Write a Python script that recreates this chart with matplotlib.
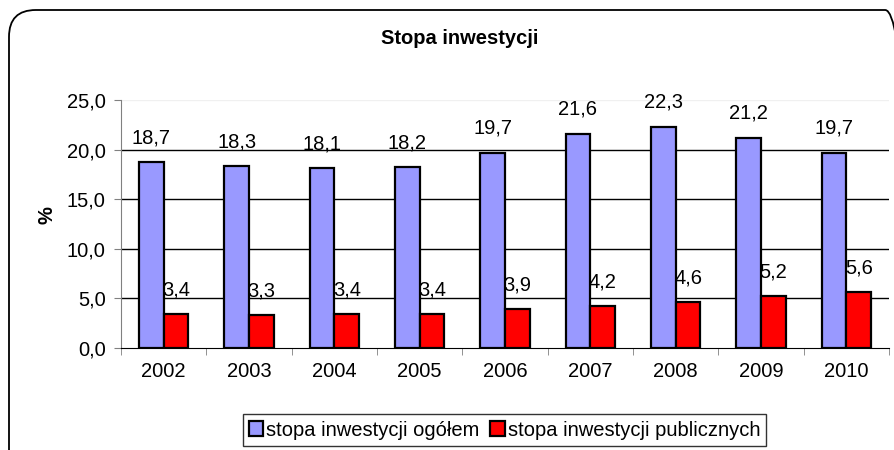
import matplotlib.pyplot as plt
import numpy as np
from matplotlib.patches import FancyBboxPatch

plt.rcParams['font.family'] = ['Liberation Sans', 'DejaVu Sans']

years = ['2002', '2003', '2004', '2005', '2006', '2007', '2008', '2009', '2010']
ogolem = [18.7, 18.3, 18.1, 18.2, 19.7, 21.6, 22.3, 21.2, 19.7]
publiczne = [3.4, 3.3, 3.4, 3.4, 3.9, 4.2, 4.6, 5.2, 5.6]

fs = 14.5
fig = plt.figure(figsize=(8.94, 4.5), dpi=100)

# rounded frame around the whole chart (runs off the right and bottom edges)
frame = FancyBboxPatch((9 / 894, -0.2), (912 - 9) / 894, 1.2 - 10 / 450,
                       boxstyle='round,pad=0,rounding_size=0.03',
                       transform=fig.transFigure, facecolor='none',
                       edgecolor='black', linewidth=1.3, zorder=-1,
                       mutation_aspect=894 / 450)
fig.patches.append(frame)

ax = fig.add_axes([121 / 894, 1 - 348 / 450, (889 - 121) / 894, 248 / 450])
ax.set_facecolor('none')

x = np.arange(len(years))
w = 0.29
b1 = ax.bar(x - w / 2, ogolem, w, color='#9999ff', edgecolor='black', linewidth=1.6, zorder=3)
b2 = ax.bar(x + w / 2, publiczne, w, color='#ff0000', edgecolor='black', linewidth=1.6, zorder=3)

for xi, v in zip(x, ogolem):
    ax.annotate(f'{v:.1f}'.replace('.', ','), (xi - w / 2, v), xytext=(0, 15),
                textcoords='offset pixels', ha='center', va='bottom', fontsize=fs, zorder=4)
# these sit behind the blue bars, as in the original
for xi, v in zip(x, publiczne):
    ax.annotate(f'{v:.1f}'.replace('.', ','), (xi + w / 2, v), xytext=(0, 15),
                textcoords='offset pixels', ha='center', va='bottom', fontsize=fs, zorder=2)

ax.set_xlim(-0.5, len(years) - 0.5)
ax.set_ylim(0, 25)
ax.set_yticks(np.arange(0, 26, 5))
ax.set_yticklabels([f'{t:.1f}'.replace('.', ',') for t in np.arange(0, 26, 5)], fontsize=fs)
for t in [5, 10, 15, 20]:
    ax.axhline(t, color='black', linewidth=1.0, zorder=1)
ax.axhline(25, color='#f0f0f0', linewidth=1.0, zorder=1)

ax.set_xticks(x)
ax.set_xticklabels(years, fontsize=fs)
ax.set_xticks(np.arange(-0.5, len(years)), minor=True)
ax.tick_params(axis='x', which='major', length=0, pad=10)
ax.tick_params(axis='x', which='minor', length=5, color='#808080')
ax.tick_params(axis='y', length=5, color='#808080', pad=6)

for s in ['top', 'right']:
    ax.spines[s].set_visible(False)
ax.spines['left'].set_color('#808080')
ax.spines['bottom'].set_color('black')

fig.text(47 / 894, 1 - 215 / 450, '%', rotation=90, ha='center', va='center',
         fontsize=fs, fontweight='bold')
fig.text(460 / 894, 1 - 38 / 450, 'Stopa inwestycji', ha='center', va='center',
         fontsize=fs, fontweight='bold')

leg = fig.legend([b1, b2], ['stopa inwestycji ogółem', 'stopa inwestycji publicznych'],
                 loc='center', bbox_to_anchor=(504.5 / 894, 1 - 430 / 450), ncol=2,
                 fontsize=fs, frameon=True, fancybox=False, handlelength=0.7,
                 handleheight=0.7, handletextpad=0.15, columnspacing=0.55,
                 borderpad=0.3, borderaxespad=0)
leg.get_frame().set_edgecolor('black')
leg.get_frame().set_linewidth(1.0)

fig.savefig('out.png', dpi=100)
